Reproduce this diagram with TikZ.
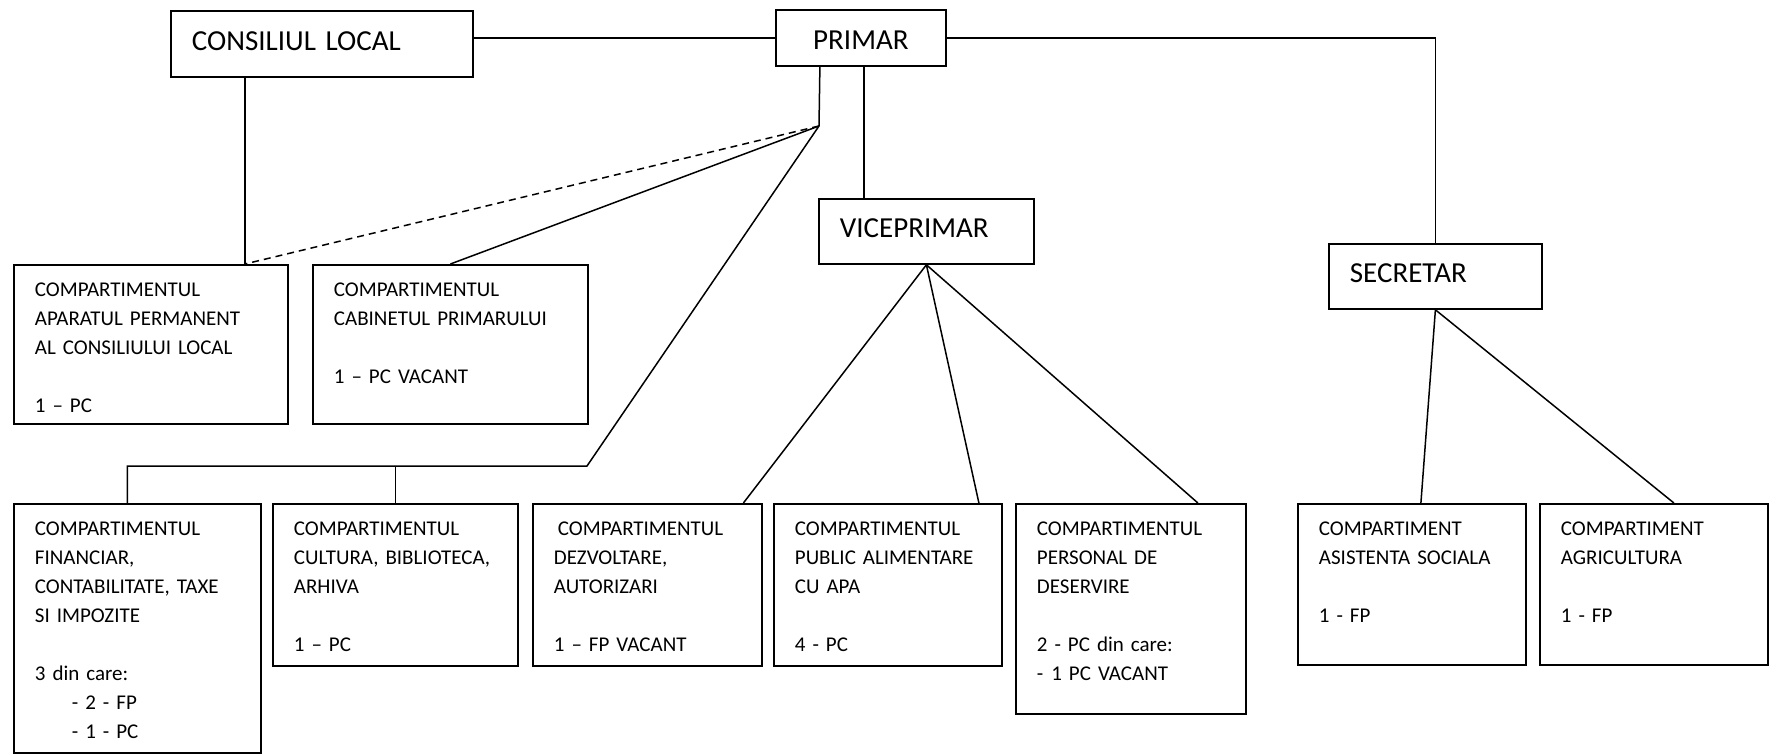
\documentclass[tikz,border=0pt]{standalone}
\usepackage{fontspec}
\setmainfont{Carlito}
\newcommand{\headfont}{\fontsize{29}{35}\selectfont}
\newcommand{\unitfont}{\fontsize{21}{29}\selectfont}

\begin{document}
\begin{tikzpicture}[x=1pt,y=-1pt,
    head/.style={draw, line width=1.8pt, anchor=north west, align=left,
      inner xsep=21pt, inner ysep=0pt, text height=39pt, text depth=26pt, font=\headfont},
    unit/.style={draw, line width=1.8pt, anchor=north west, align=left,
      inner xsep=21pt, inner ysep=0pt, text height=32pt, font=\unitfont},
    link/.style={line width=1.5pt}]
   \useasboundingbox (0,0) rectangle (1770,755);

   % conducere
   \node[head, text width=260pt, text height=40pt] (cl) at (170,10) {CONSILIUL LOCAL};
   \node[head, align=center, text width=128pt, text height=40pt, text depth=16pt] (primar) at (775,9) {PRIMAR};
   \node[head, text width=173pt] (vice) at (818,198) {VICEPRIMAR};
   \node[head, text width=171pt] (secretar) at (1328,243) {SECRETAR};

   % compartimente sub primar
   \node[unit, text width=232pt, text depth=127pt] (apar) at (13,264)
     {COMPARTIMENTUL\\APARATUL PERMANENT\\AL CONSILIULUI LOCAL\\[29pt]1 -- PC};
   \node[unit, text width=233pt, text depth=127pt] (cabi) at (312,264)
     {COMPARTIMENTUL\\CABINETUL PRIMARULUI\\[29pt]1 -- PC VACANT};
   \node[unit, text width=205pt, text depth=217pt] (fin) at (13,503)
     {COMPARTIMENTUL\\FINANCIAR,\\CONTABILITATE, TAXE\\SI IMPOZITE\\[29pt]3 din care:\\
      \hspace*{37pt}- 2 - FP\\\hspace*{37pt}- 1 - PC};
   \node[unit, text width=203pt, text depth=130pt] (cult) at (272,503)
     {COMPARTIMENTUL\\CULTURA,~BIBLIOTECA,\\ARHIVA\\[29pt]1 -- PC};

   % compartimente sub viceprimar
   \node[unit, text width=187pt, text depth=130pt] (dezv) at (532,503)
     {\hspace*{4pt}COMPARTIMENTUL\\DEZVOLTARE,\\AUTORIZARI\\[29pt]1 -- FP VACANT};
   \node[unit, text width=186pt, text depth=130pt] (apa) at (773,503)
     {COMPARTIMENTUL\\PUBLIC~ALIMENTARE\\CU APA\\[29pt]4 - PC};
   \node[unit, text width=188pt, text depth=178pt] (pers) at (1015,503)
     {COMPARTIMENTUL\\PERSONAL DE\\DESERVIRE\\[29pt]2 - PC din care:\\-\hspace{8pt}1 PC VACANT};

   % compartimente sub secretar
   \node[unit, text width=186pt, text depth=129pt] (asist) at (1297,503)
     {COMPARTIMENT\\ASISTENTA SOCIALA\\[29pt]1 - FP};
   \node[unit, text width=186pt, text depth=129pt] (agri) at (1539,503)
     {COMPARTIMENT\\AGRICULTURA\\[29pt]1 - FP};

   \coordinate (hub) at (819,126);
   \coordinate (bend) at (587,466);
   \coordinate (clfoot) at ([xshift=-77pt]cl.south |- apar.north);

   \draw[link] (primar.west) -- (primar.west -| cl.east);
   \draw[link] (primar.east) -| (secretar.north);
   \draw[link] ([xshift=3pt]primar.south) -- ([xshift=3pt]primar.south |- vice.north);
   \draw[link] ([xshift=-41pt]primar.south) -- (hub);
   \draw[link] ([xshift=-77pt]cl.south) -- (clfoot);
   \draw[link, dash pattern=on 7pt off 5pt] (hub) -- (clfoot);
   \draw[link] (hub) -- (cabi.north);
   \draw[link] (hub) -- (bend) -- ([xshift=-10pt]fin.north |- bend) -- ([xshift=-10pt]fin.north);
   \draw[link] (cult.north |- bend) -- (cult.north);

   \draw[link] (vice.south) -- ([xshift=96pt]dezv.north);
   \draw[link] (vice.south) -- ([xshift=91pt]apa.north);
   \draw[link] (vice.south) -- ([xshift=67pt]pers.north);

   \draw[link] (secretar.south) -- ([xshift=9pt]asist.north);
   \draw[link] (secretar.south) -- ([xshift=20pt]agri.north);
\end{tikzpicture}
\end{document}
